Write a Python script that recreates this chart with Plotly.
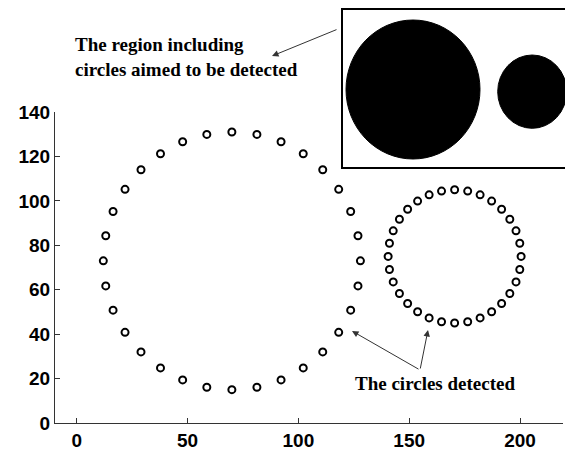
import plotly.graph_objects as go

# ---- data ----
big_x = [128.0, 126.9, 123.6, 118.2, 111.0, 102.2, 92.2, 81.3, 70.0, 58.7, 47.8, 37.8, 29.0, 21.8, 16.4, 13.1,
         12.0, 13.1, 16.4, 21.8, 29.0, 37.8, 47.8, 58.7, 70.0, 81.3, 92.2, 102.2, 111.0, 118.2, 123.6, 126.9]
big_y = [73.0, 84.3, 95.2, 105.2, 114.0, 121.2, 126.6, 129.9, 131.0, 129.9, 126.6, 121.2, 114.0, 105.2, 95.2, 84.3,
         73.0, 61.7, 50.8, 40.8, 32.0, 24.8, 19.4, 16.1, 15.0, 16.1, 19.4, 24.8, 32.0, 40.8, 50.8, 61.7]
small_x = [200.5, 199.9, 198.2, 195.4, 191.7, 187.2, 182.0, 176.4, 170.5, 164.6, 159.0, 153.8, 149.3, 145.6, 142.8, 141.1,
           140.5, 141.1, 142.8, 145.6, 149.3, 153.8, 159.0, 164.6, 170.5, 176.4, 182.0, 187.2, 191.7, 195.4, 198.2, 199.9]
small_y = [75.0, 80.9, 86.5, 91.7, 96.2, 99.9, 102.7, 104.4, 105.0, 104.4, 102.7, 99.9, 96.2, 91.7, 86.5, 80.9,
           75.0, 69.1, 63.5, 58.3, 53.8, 50.1, 47.3, 45.6, 45.0, 45.6, 47.3, 50.1, 53.8, 58.3, 63.5, 69.1]
x_ticks = [0, 50, 100, 150, 200]
y_ticks = [0, 20, 40, 60, 80, 100, 120, 140]

# ---- layout geometry (page pixels; the page body adds an 8px offset) ----
OFF = 8
W, H = 573 - OFF, 455 - OFF
PL, PR, PT, PB = 55, 563, 112, 423      # plot area in page pixels
L, T = PL - OFF, PT - OFF
R, B = (W + OFF) - PR, (H + OFF) - PB
PW, PH = PR - PL, PB - PT
XR = [-9.8, 219.4]
YR = [0, 140]


def px(xp):
    return (xp - PL) / PW


def py(yp):
    return (PB - yp) / PH


def dx(xp):
    return XR[0] + (xp - PL) / PW * (XR[1] - XR[0])


def dy(yp):
    return YR[0] + (PB - yp) / PH * (YR[1] - YR[0])


fig = go.Figure()
marker = dict(symbol="circle-open", size=7, color="black", line=dict(width=2, color="black"))
fig.add_trace(go.Scatter(x=big_x, y=big_y, mode="markers", marker=marker, showlegend=False))
fig.add_trace(go.Scatter(x=small_x, y=small_y, mode="markers", marker=marker, showlegend=False))

tickfont = dict(family="Liberation Sans, Arial, sans-serif", size=19, color="black", weight="bold")
axis_common = dict(showgrid=False, zeroline=False, showline=True, linecolor="#333", linewidth=1,
                   ticks="inside", ticklen=5, tickcolor="#333", tickwidth=1, tickfont=tickfont, mirror=False)
fig.update_xaxes(range=XR, tickvals=x_ticks, ticktext=[str(v) for v in x_ticks], **axis_common)
fig.update_yaxes(range=YR, tickvals=y_ticks, ticktext=[str(v) for v in y_ticks], **axis_common)

# inset picture
shapes = [
    dict(type="rect", xref="paper", yref="paper", x0=px(342), x1=px(572), y0=py(168), y1=py(9),
         line=dict(color="black", width=2), fillcolor="white", layer="above"),
    dict(type="circle", xref="paper", yref="paper", x0=px(346), x1=px(480), y0=py(159), y1=py(20),
         line=dict(color="black", width=1), fillcolor="black", layer="above"),
    dict(type="circle", xref="paper", yref="paper", x0=px(497.7), x1=px(566.7), y0=py(128.3), y1=py(55),
         line=dict(color="black", width=1), fillcolor="black", layer="above"),
]

serif = dict(family="Liberation Serif, Times New Roman, serif", size=19, color="black", weight="bold")
arrow_style = dict(showarrow=True, arrowhead=2, arrowsize=1.3, arrowwidth=1, arrowcolor="#333", text="")
annotations = [
    dict(x=px(272), y=py(56), ax=338 - 272, ay=29 - 56, xref="paper", yref="paper",
         axref="pixel", ayref="pixel", **arrow_style),
    dict(x=dx(352), y=dy(331), ax=dx(420), ay=dy(370), xref="x", yref="y", axref="x", ayref="y", **arrow_style),
    dict(x=dx(428), y=dy(330), ax=dx(420), ay=dy(370), xref="x", yref="y", axref="x", ayref="y", **arrow_style),
    dict(x=px(73), y=py(57), xref="paper", yref="paper", xanchor="left", yanchor="middle", align="left",
         text="The region including<br>circles aimed to be detected", showarrow=False, font=serif),
    dict(x=dx(435), y=dy(383), xref="x", yref="y", xanchor="center", yanchor="middle",
         text="The circles detected", showarrow=False, font=serif),
]

fig.update_layout(width=W, height=H, margin=dict(l=L, r=R, t=T, b=B, autoexpand=False),
                  plot_bgcolor="white", paper_bgcolor="white", shapes=shapes, annotations=annotations,
                  showlegend=False)

fig.write_html("out.html")
